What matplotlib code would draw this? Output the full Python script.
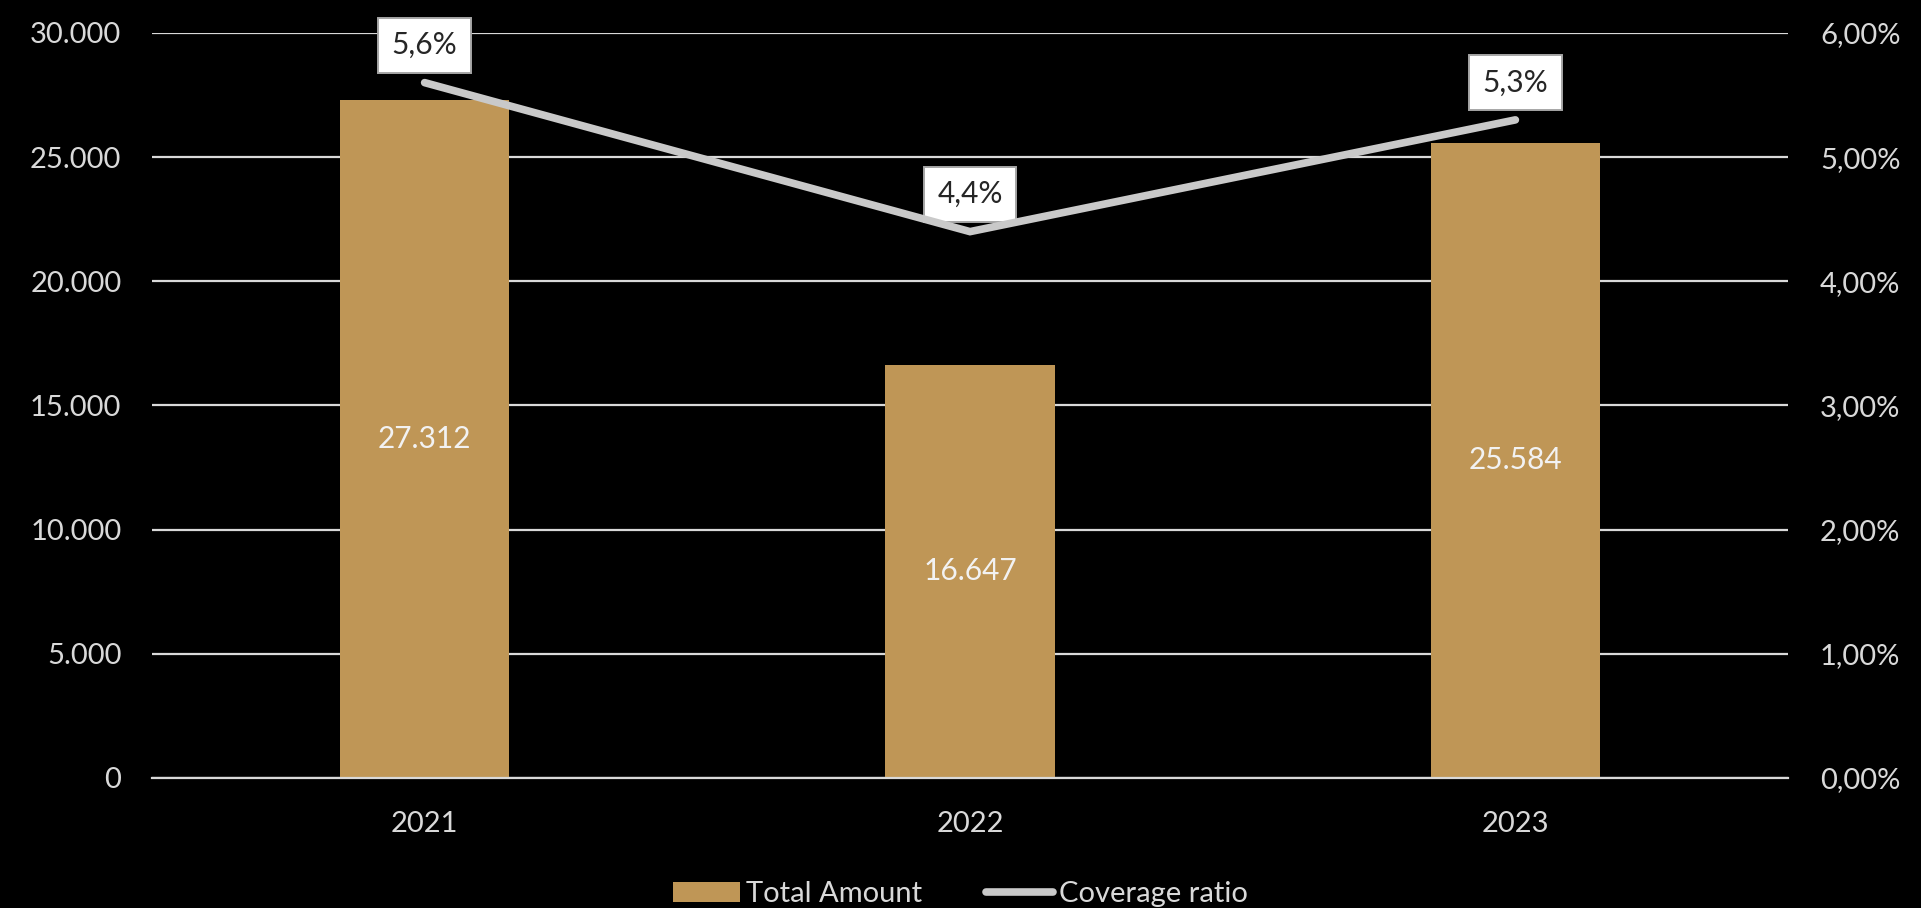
import matplotlib.pyplot as plt
import numpy as np

# Yearly totals (bars) and coverage ratio in percent (line)
years = ['2021', '2022', '2023']
total_amount = [27312, 16647, 25584]
coverage_ratio = [5.6, 4.4, 5.3]

bar_color = '#BF9656'
line_color = '#C9C9C9'
text_color = '#D9D9D9'

plt.rcParams['font.family'] = ['Lato', 'DejaVu Sans']

fig = plt.figure(figsize=(19.21, 9.08), dpi=100, facecolor='black')
ax = fig.add_axes([0.0791, 0.1432, 0.8517, 0.8205], facecolor='black')
ax2 = ax.twinx()

x = np.arange(len(years))

# Bars with the amount written in the middle
bars = ax.bar(x, total_amount, width=0.31, color=bar_color, zorder=2,
              label='Total Amount')
for xi, v in zip(x, total_amount):
    ax.text(xi, v / 2, '{:,}'.format(v).replace(',', '.'), ha='center',
            va='center', color='#F2F2F2', fontsize=21.5, zorder=3)

ax.set_xlim(-0.5, 2.5)
ax.set_ylim(0, 30000)
ax.set_yticks(np.arange(0, 30001, 5000))
ax.set_yticklabels(['{:,}'.format(t).replace(',', '.') for t in range(0, 30001, 5000)])
ax.set_xticks(x)
ax.set_xticklabels(years)
ax.yaxis.grid(True, color='#D9D9D9', linewidth=1.6, zorder=0)
ax.set_axisbelow(True)
ax.tick_params(axis='both', length=0, colors=text_color, labelsize=21)
ax.tick_params(axis='y', pad=22)
ax.tick_params(axis='x', pad=24)
for s in ax.spines.values():
    s.set_visible(False)
ax.spines['bottom'].set_visible(True)
ax.spines['bottom'].set_color('#D9D9D9')
ax.spines['bottom'].set_linewidth(1.6)

# Coverage ratio on the secondary axis
line, = ax2.plot(x, coverage_ratio, color=line_color, linewidth=5.5,
                 solid_capstyle='round', solid_joinstyle='miter', zorder=4,
                 label='Coverage ratio')
for xi, v in zip(x, coverage_ratio):
    ax2.annotate('{:.1f}%'.format(v).replace('.', ','), xy=(xi, v),
                 xytext=(0, 27), textcoords='offset points', ha='center',
                 va='center', fontsize=21.5, color='#262626',
                 bbox=dict(boxstyle='square,pad=0.45', fc='white',
                           ec='#A6A6A6', lw=1.4))
ax2.set_ylim(0, 6)
ax2.set_yticks(np.arange(0, 6.01, 1))
ax2.set_yticklabels(['{:.2f}%'.format(t).replace('.', ',') for t in range(7)])
ax2.tick_params(axis='y', length=0, colors=text_color, labelsize=21, pad=23)
for s in ax2.spines.values():
    s.set_visible(False)

leg = fig.legend(handles=[bars, line], loc='lower center',
                 bbox_to_anchor=(0.5, -0.028), ncol=2, frameon=False,
                 fontsize=21, handlelength=2.3, handletextpad=0.2,
                 columnspacing=2.2)
for t in leg.get_texts():
    t.set_color(text_color)

fig.savefig('out.png', dpi=100, facecolor='black')
